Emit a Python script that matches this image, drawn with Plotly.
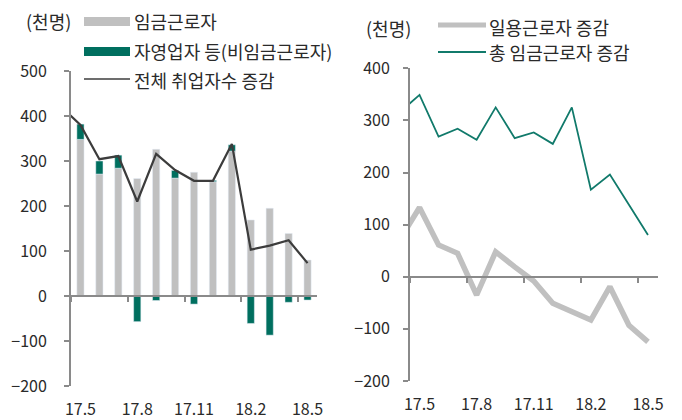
import plotly.graph_objects as go

# ---------------- data ----------------
months = ["17.5", "17.6", "17.7", "17.8", "17.9", "17.10", "17.11",
          "17.12", "18.1", "18.2", "18.3", "18.4", "18.5"]
tick_labels = ["17.5", "17.8", "17.11", "18.2", "18.5"]

# left chart (천명)
wage_workers = [348, 271, 284, 261, 326, 262, 275, 254, 322, 169, 195, 139, 80]
non_wage = [34, 29, 29, -57, -10, 17, -18, 3, 14, -61, -87, -14, -9]
# total employment change, starting one month earlier (17.4, clipped at the axis)
total_months = ["17.4"] + months
total_change = [420, 380, 304, 311, 210, 316, 280, 256, 256, 338, 103, 112, 124, 73]

# right chart (천명), starting at 17.4 (clipped at the axis)
daily_change = [73, 133, 61, 45, -35, 48, 19, -8, -51, -67, -83, -19, -93, -125]
wage_total_change = [317, 349, 269, 284, 263, 325, 266, 277, 255, 325, 167, 196, 138, 80]

# ---------------- styles ----------------
GRAY = "#c0c0c0"
GREEN = "#006f5f"
LINE_GREEN = "#117a6b"
DARK = "#3c3c3c"
AXIS = "#8a8a8a"
FONT = "Noto Sans CJK KR"
TXT = "#2a2a2a"

W, H = 682, 420

def px(x):
    return x / W

def py(y):
    return 1 - y / H

xi = list(range(len(months)))
xi_ext = [-1] + xi
tickpos = [months.index(t) for t in tick_labels]
boundaries = [p - 0.5 for p in tickpos]

fig = go.Figure()

# left chart
fig.add_trace(go.Bar(x=xi, y=wage_workers, marker_color=GRAY, width=0.38,
                     xaxis="x", yaxis="y", name="임금근로자", showlegend=False))
fig.add_trace(go.Bar(x=xi, y=non_wage, marker_color=GREEN, width=0.38,
                     xaxis="x", yaxis="y", name="자영업자 등(비임금근로자)", showlegend=False))
fig.add_trace(go.Scatter(x=xi_ext, y=total_change, mode="lines",
                         line=dict(color=DARK, width=2.2), xaxis="x", yaxis="y",
                         name="전체 취업자수 증감", showlegend=False))

# right chart
fig.add_trace(go.Scatter(x=xi_ext, y=daily_change, mode="lines",
                         line=dict(color=GRAY, width=5.5), xaxis="x2", yaxis="y2",
                         name="일용근로자 증감", showlegend=False))
fig.add_trace(go.Scatter(x=xi_ext, y=wage_total_change, mode="lines",
                         line=dict(color=LINE_GREEN, width=1.8), xaxis="x2", yaxis="y2",
                         name="총 임금근로자 증감", showlegend=False))

L_dom_x = [px(71), px(317)]
L_dom_y = [py(386), py(71)]
R_dom_x = [px(410), px(657.5)]
R_dom_y = [py(381), py(68.3)]
L_range = [-200, 500]
R_range = [-200, 400]

def zero_pos(dom, rng):
    return dom[0] + (0 - rng[0]) / (rng[1] - rng[0]) * (dom[1] - dom[0])

tickfont = dict(family=FONT, size=16, color=TXT)

common_x = dict(range=[-0.5, len(months) - 0.5], tickmode="array",
                tickvals=tickpos, ticktext=tick_labels, ticks="",
                showline=False, showgrid=False, zeroline=False,
                tickfont=tickfont, ticklabelstandoff=12, automargin=False)
zero_x = dict(range=[-0.5, len(months) - 0.5], tickmode="array",
              tickvals=boundaries, ticks="outside", ticklen=5, tickwidth=1.5,
              tickcolor=AXIS, showticklabels=False, showline=True,
              linecolor=AXIS, linewidth=1.8, showgrid=False, zeroline=False,
              automargin=False)
common_y = dict(showline=True, linecolor=AXIS, linewidth=2, ticks="outside",
                ticklen=5, tickwidth=1.5, tickcolor=AXIS, dtick=100,
                showgrid=False, zeroline=False, tickfont=tickfont, automargin=False)

fig.update_layout(
    width=W, height=H, margin=dict(l=0, r=0, t=0, b=0, autoexpand=False),
    paper_bgcolor="white", plot_bgcolor="white",
    barmode="relative", showlegend=False,
    font=dict(family=FONT, color=TXT),
    xaxis=dict(domain=L_dom_x, anchor="y", **common_x),
    yaxis=dict(domain=L_dom_y, anchor="x", range=L_range,
               ticklabelstandoff=14, **common_y),
    xaxis3=dict(overlaying="x", anchor="free",
                position=zero_pos(L_dom_y, L_range), **zero_x),
    xaxis2=dict(domain=R_dom_x, anchor="y2", **common_x),
    yaxis2=dict(domain=R_dom_y, anchor="x2", range=R_range,
                ticklabelstandoff=10, **common_y),
    xaxis4=dict(overlaying="x2", anchor="free",
                position=zero_pos(R_dom_y, R_range), **zero_x),
)

# dummy traces to activate the zero-line axes
fig.add_trace(go.Scatter(x=[None], y=[None], xaxis="x3", yaxis="y", showlegend=False))
fig.add_trace(go.Scatter(x=[None], y=[None], xaxis="x4", yaxis="y2", showlegend=False))

# ---------------- legends (drawn) ----------------
shapes = []
annotations = []
lfont = dict(family=FONT, size=18, color=TXT)

def label(x, y, text):
    annotations.append(dict(x=px(x), y=py(y), xref="paper", yref="paper", text=text,
                            showarrow=False, xanchor="left", yanchor="middle", font=lfont))

# left
label(24, 21, "(천명)")
shapes.append(dict(type="rect", xref="paper", yref="paper", x0=px(84), x1=px(130),
                   y0=py(26), y1=py(17), fillcolor=GRAY, line_width=0))
label(132, 21, "임금근로자")
shapes.append(dict(type="rect", xref="paper", yref="paper", x0=px(84), x1=px(130),
                   y0=py(56), y1=py(47), fillcolor=GREEN, line_width=0))
label(132, 51, "자영업자 등(비임금근로자)")
shapes.append(dict(type="line", xref="paper", yref="paper", x0=px(84), x1=px(130),
                   y0=py(79), y1=py(79), line=dict(color=DARK, width=1.5)))
label(132, 80, "전체 취업자수 증감")

# right
label(364, 28, "(천명)")
shapes.append(dict(type="line", xref="paper", yref="paper", x0=px(438), x1=px(486),
                   y0=py(25), y1=py(25), line=dict(color=GRAY, width=5)))
label(487, 27, "일용근로자 증감")
shapes.append(dict(type="line", xref="paper", yref="paper", x0=px(438), x1=px(486),
                   y0=py(52), y1=py(52), line=dict(color=LINE_GREEN, width=1.8)))
label(487, 52, "총 임금근로자 증감")

fig.update_layout(shapes=shapes, annotations=annotations)

fig.write_html("out.html", config={"displayModeBar": False},
               post_script="document.body.style.margin='0px';")
